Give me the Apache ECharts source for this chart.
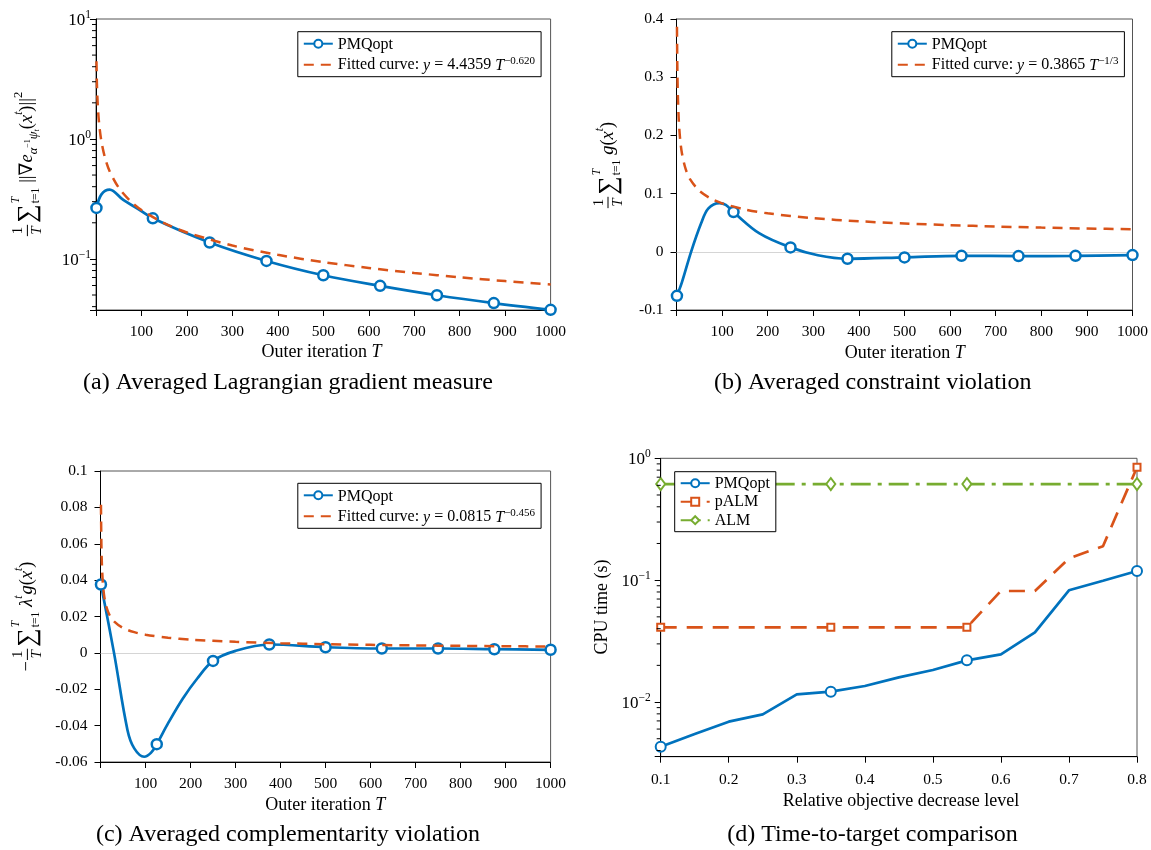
<!DOCTYPE html>
<html><head><meta charset="utf-8">
<script src="https://cdn.jsdelivr.net/npm/echarts@6/dist/echarts.min.js"></script>
<style>html,body{margin:0;padding:0;background:#fff}#c{width:1151px;height:850px}</style>
</head><body><div id="c"></div>
<script>
// ---------------- data ----------------
// panel (a)-(c) PMQopt: [T, value, isMarker]
const pmqA = [[1,0.266,1],[12,0.345,0],[30,0.378,0],[60,0.31,0],[92,0.262,0],[125,0.218,1],[250,0.137,1],[375,0.0962,1],[500,0.0731,1],[625,0.0596,1],[750,0.0498,1],[875,0.0428,1],[1000,0.0376,1]];
const pmqB = [[1,-0.0756,1],[12,-0.052,0],[32,0,0],[54,0.049,0],[70,0.0746,0],[94,0.0838,0],[108,0.0805,0],[125,0.0682,1],[182,0.0316,0],[250,0.0076,1],[310,-0.006,0],[375,-0.012,1],[500,-0.0096,1],[625,-0.0069,1],[750,-0.0074,1],[875,-0.0069,1],[1000,-0.0057,1]];
const pmqC = [[1,0.0376,1],[30,0,0],[60,-0.0425,0],[75,-0.0525,0],[97,-0.0571,0],[112,-0.055,0],[125,-0.0502,1],[150,-0.0388,0],[183,-0.0251,0],[215,-0.0141,0],[250,-0.0044,1],[300,0.0011,0],[375,0.0046,1],[500,0.0031,1],[625,0.0024,1],[750,0.0024,1],[875,0.002,1],[1000,0.0017,1]];
const fitT = [1,2,3,5,8,12,20,30,50,75,100,150,200,300,400,500,600,700,800,900,1000];
const fitA = [4.436,2.886,2.245,1.635,1.222,0.950,0.6925,0.5386,0.3925,0.3053,0.2553,0.1986,0.1661,0.1292,0.1081,0.0941,0.0841,0.0764,0.0703,0.0653,0.0612];
const fitB = [0.3865,0.3068,0.268,0.226,0.1933,0.1688,0.1424,0.1244,0.1049,0.0916,0.0833,0.0728,0.0661,0.0577,0.0525,0.0487,0.0458,0.0435,0.0416,0.0400,0.0387];
const fitC = [0.0815,0.0594,0.0494,0.0391,0.0316,0.0262,0.0208,0.01729,0.01369,0.01138,0.00998,0.0083,0.00728,0.00605,0.00531,0.00479,0.00441,0.00411,0.00387,0.00366,0.00349];
// panel (d)
const levels = [0.1,0.15,0.2,0.25,0.3,0.35,0.4,0.45,0.5,0.55,0.6,0.65,0.7,0.75,0.8];
const dMarkIdx = [0,5,9,14];
const timePMQ = [0.0043,0.00546,0.0069,0.00792,0.01156,0.01216,0.01353,0.01595,0.01832,0.02198,0.0246,0.0373,0.0826,0.099,0.119];
const timePALM = [0.041,0.041,0.041,0.041,0.041,0.041,0.041,0.041,0.041,0.041,0.0815,0.0815,0.151,0.19,0.844];
const timeALM = [0.615,0.615,0.615,0.615,0.615,0.615,0.615,0.615,0.615,0.615,0.615,0.615,0.615,0.615,0.615];
const minorA = [0.04,0.05,0.06,0.07,0.08,0.09,0.2,0.3,0.4,0.5,0.6,0.7,0.8,0.9,2,3,4,5,6,7,8,9];
const minorD = [0.004,0.005,0.006,0.007,0.008,0.009,0.02,0.03,0.04,0.05,0.06,0.07,0.08,0.09,0.2,0.3,0.4,0.5,0.6,0.7,0.8,0.9];

// ---------------- style ----------------
const FF = '"Liberation Serif","DejaVu Serif",serif';
const BLUE = '#0072BD', RED = '#D95319', GREEN = '#77AC30';
const TICKFS = 15.5;
function supRich(fs, sfs, lh){
  return {
    i: {fontStyle:'italic', fontSize:fs, fontFamily:FF, color:'#000', lineHeight:lh, verticalAlign:'bottom'},
    n: {fontSize:fs, fontFamily:FF, color:'#000', lineHeight:lh, verticalAlign:'bottom'},
    s: {fontSize:sfs, fontFamily:FF, color:'#000', lineHeight:sfs, verticalAlign:'top'}
  };
}

const grids = [
  {left:96, top:19, width:454.6, height:291},
  {left:676.5, top:19, width:458.7, height:291},
  {left:100.5, top:471, width:450.1, height:291},
  {left:660.7, top:458.3, width:476.3, height:298.4}
].map(g => Object.assign(g, {show:true, borderColor:'#555', borderWidth:1, backgroundColor:'transparent', containLabel:false}));

const axLine = {show:true, onZero:false, lineStyle:{color:'#000', width:1}};
const axTick = {show:true, inside:false, length:6, lineStyle:{color:'#000', width:1}};
const lblBase = {color:'#000', fontFamily:FF, fontSize:TICKFS};

function tAxis(gi){
  return {type:'value', gridIndex:gi, min:0, max:1000, interval:100, axisLine:axLine, axisTick:axTick, splitLine:{show:false},
    axisLabel:Object.assign({}, lblBase, {margin:14, formatter: v => v === 0 ? '' : String(v)})};
}
function logLabel(v){
  const l = Math.log10(v), e = Math.round(l);
  if (Math.abs(l - e) > 1e-6) return '';
  return '{n|10}{s|' + (e < 0 ? '\u2212' + (-e) : e) + '}';
}
const xAxes = [tAxis(0), tAxis(1), tAxis(2),
  {type:'value', gridIndex:3, min:0.1, max:0.8, interval:0.1, axisLine:axLine, axisTick:axTick, splitLine:{show:false},
   axisLabel:Object.assign({}, lblBase, {margin:15})}];
const yAxes = [
  {type:'log', logBase:10, gridIndex:0, min:0.0375, max:10, axisLine:axLine, axisTick:axTick, splitLine:{show:false}, minorTick:{show:false},
   axisLabel:Object.assign({}, lblBase, {margin:5, formatter:logLabel, rich:supRich(17, 11.5, 20)})},
  {type:'value', gridIndex:1, min:-0.1, max:0.4, interval:0.1, axisLine:axLine, axisTick:axTick, splitLine:{show:false},
   axisLabel:Object.assign({}, lblBase, {margin:13})},
  {type:'value', gridIndex:2, min:-0.06, max:0.1, interval:0.02, axisLine:axLine, axisTick:axTick, splitLine:{show:false},
   axisLabel:Object.assign({}, lblBase, {margin:13})},
  {type:'log', logBase:10, gridIndex:3, min:0.00356, max:1, axisLine:axLine, axisTick:axTick, splitLine:{show:false}, minorTick:{show:false},
   axisLabel:Object.assign({}, lblBase, {margin:10, formatter:logLabel, rich:supRich(17, 11.5, 20)})}
];

function pmqSeries(gi, arr, zero){
  const s = {
    name:'PMQopt', type:'line', xAxisIndex:gi, yAxisIndex:gi, smooth:0.35, showAllSymbol:true, color:BLUE,
    symbol:'circle', symbolSize:10, itemStyle:{color:'#fff', borderColor:BLUE, borderWidth:2.5},
    lineStyle:{color:BLUE, width:2.7}, z:3,
    data: arr.map(p => p[2] ? {value:[p[0],p[1]]} : {value:[p[0],p[1]], symbol:'none'})
  };
  if (zero) s.markLine = {silent:true, symbol:['none','none'], label:{show:false}, lineStyle:{color:'#aaa', type:'dotted', width:1}, data:[{yAxis:0}], z:1};
  return s;
}
function fitSeries(gi, name, vals){
  return {name, type:'line', xAxisIndex:gi, yAxisIndex:gi, smooth:0.3, symbol:'none', color:RED,
    lineStyle:{color:RED, width:2.5, type:[10,7]}, z:4,
    data: fitT.map((t,i) => [t, vals[i]])};
}
function minorSeries(gi, x0, vals){
  return {type:'custom', xAxisIndex:gi, yAxisIndex:gi, silent:true, z:10, clip:false,
    data: vals.map(v => [x0, v]),
    renderItem: (params, api) => {
      const p = api.coord([api.value(0), api.value(1)]);
      return {type:'line', shape:{x1:p[0]-4, y1:p[1], x2:p[0], y2:p[1]}, style:{stroke:'#000', lineWidth:1}};
    }};
}
function dSeries(name, vals, color, lineType, sym, symSize){
  return {name, type:'line', xAxisIndex:3, yAxisIndex:3, color, showAllSymbol:true,
    symbol:sym, symbolSize:symSize, itemStyle:{color:'#fff', borderColor:color, borderWidth:2},
    lineStyle:{color, width:2.7, type:lineType}, z: name==='ALM'?2:3,
    data: levels.map((x,i) => dMarkIdx.indexOf(i) >= 0 ? {value:[x, vals[i]]} : {value:[x, vals[i]], symbol:'none'})};
}

const fitNames = {
  fitA: 'Fitted curve: {i|y} = 4.4359 {i|T}{s|\u22120.620}',
  fitB: 'Fitted curve: {i|y} = 0.3865 {i|T}{s|\u22121/3}',
  fitC: 'Fitted curve: {i|y} = 0.0815 {i|T}{s|\u22120.456}'
};
function legendAt(left, top, data, gap, lh){
  return {show:true, orient:'vertical', left, top, data, itemWidth:29, itemHeight:10, itemGap:gap,
    padding:[3,6,3,5], borderColor:'#000', borderWidth:1, backgroundColor:'#fff', borderRadius:0,
    textStyle:{fontFamily:FF, fontSize:16, color:'#000', lineHeight:lh, rich:supRich(16, 11, lh)},
    formatter: n => fitNames[n] ? fitNames[n] : '{n|' + n + '}', selectedMode:false};
}
const hideSym = name => ({name, itemStyle:{opacity:0}});

// ----- math labels via graphic -----
const mctx = document.createElement('canvas').getContext('2d');
function tw(t, fs, it){ mctx.font = (it ? 'italic ' : '') + fs + 'px ' + FF; return mctx.measureText(t).width; }
function gtxt(t, x, y, fs, it, align){
  return {type:'text', x, y, style:{text:t, fontSize:fs, fontFamily:FF, fontStyle: it ? 'italic' : 'normal', fill:'#000',
    align:align||'left', textAlign:align||'left', verticalAlign:'middle', textVerticalAlign:'middle'}};
}
function mathLabel(cx, cy, pieces){
  let x = 0; const kids = [];
  pieces.forEach(p => {
    if (p.frac) {
      const fs = p.fs, ww = Math.max(tw(p.frac[0], fs, false), tw(p.frac[1], fs, true)) + 3;
      kids.push(gtxt(p.frac[0], x + ww/2, -fs*0.62, fs, false, 'center'));
      kids.push(gtxt(p.frac[1], x + ww/2, fs*0.66, fs, true, 'center'));
      kids.push({type:'line', shape:{x1:x, y1:0, x2:x+ww, y2:0}, style:{stroke:'#000', lineWidth:1}});
      x += ww + (p.gap || 2);
    } else if (p.stack) {
      let mw = 0;
      p.stack.forEach(s => { kids.push(gtxt(s.t, x, s.dy, s.fs, s.it, 'left')); mw = Math.max(mw, tw(s.t, s.fs, s.it)); });
      x += mw + (p.gap || 0);
    } else {
      kids.push(gtxt(p.t, x, p.dy || 0, p.fs, p.it, 'left'));
      x += tw(p.t, p.fs, p.it) + (p.gap || 0);
    }
  });
  return {type:'group', x:cx, y:cy, rotation:Math.PI/2, children:[{type:'group', x:-x/2, y:0, children:kids}]};
}
const MF = 18.5;
const sumPart = [
  {t:'\u2211', fs:26, dy:1, gap:1},
  {stack:[{t:'T', fs:11.5, it:true, dy:-11}, {t:'t=1', fs:11.5, it:false, dy:9}], gap:5}
];
const labA = [{frac:['1','T'], fs:15, gap:2}].concat(sumPart, [
  {t:'||\u2207', fs:MF}, {t:'e', fs:MF, it:true},
  {t:'\u03b1', fs:12.5, it:true, dy:6}, {t:'\u22121', fs:8, dy:1}, {t:'\u03c8', fs:12.5, it:true, dy:6}, {t:'t', fs:8, it:true, dy:9},
  {t:'(', fs:MF}, {t:'x', fs:MF, it:true}, {t:'t', fs:11.5, it:true, dy:-8}, {t:')||', fs:MF}, {t:'2', fs:12.5, dy:-9}
]);
const labB = [{frac:['1','T'], fs:15, gap:2}].concat(sumPart, [
  {t:'g', fs:MF, it:true}, {t:'(', fs:MF}, {t:'x', fs:MF, it:true}, {t:'t', fs:11.5, it:true, dy:-8}, {t:')', fs:MF}
]);
const labC = [{t:'\u2212', fs:MF, gap:1}, {frac:['1','T'], fs:15, gap:2}].concat(sumPart, [
  {t:'\u03bb', fs:MF, it:true}, {t:'t', fs:11.5, it:true, dy:-8, gap:1}, {t:'g', fs:MF, it:true}, {t:'(', fs:MF}, {t:'x', fs:MF, it:true}, {t:'t', fs:11.5, it:true, dy:-8}, {t:')', fs:MF}
]);

function richText(x, y, text, fs, rot){
  return {type:'text', x, y, rotation:rot||0, style:{text, fontSize:fs, fontFamily:FF, fill:'#000', align:'center', textAlign:'center', verticalAlign:'middle', textVerticalAlign:'middle',
    rich:{i:{fontStyle:'italic', fontSize:fs, fontFamily:FF}}}};
}
const graphics = [
  mathLabel(27.4, 164, labA), mathLabel(608, 165, labB), mathLabel(27.4, 616.5, labC),
  richText(602.7, 607, 'CPU time (s)', 18, Math.PI/2),
  richText(321.5, 352.7, 'Outer iteration {i|T}', 18),
  richText(904.8, 353, 'Outer iteration {i|T}', 18),
  richText(325.2, 805.7, 'Outer iteration {i|T}', 18),
  richText(901, 801.7, 'Relative objective decrease level', 18),
  richText(288, 383, '(a) Averaged Lagrangian gradient measure', 24),
  richText(872.8, 383, '(b) Averaged constraint violation', 24),
  richText(288, 835, '(c) Averaged complementarity violation', 24),
  richText(872.5, 835, '(d) Time-to-target comparison', 24)
];

const chart = echarts.init(document.getElementById('c'), null, {renderer:'canvas'});
chart.setOption({
  animation:false, backgroundColor:'#fff',
  grid:grids, xAxis:xAxes, yAxis:yAxes,
  legend:[
    legendAt(297.8, 31.7, ['PMQopt', hideSym('fitA')], 3, 18),
    legendAt(891.8, 31.7, ['PMQopt', hideSym('fitB')], 3, 18),
    legendAt(297.8, 483.3, ['PMQopt', hideSym('fitC')], 3, 18),
    legendAt(674.7, 471.7, ['PMQopt','pALM','ALM'], 1.5, 17)
  ],
  series:[
    pmqSeries(0, pmqA, false), fitSeries(0, 'fitA', fitA), minorSeries(0, 0, minorA),
    pmqSeries(1, pmqB, true), fitSeries(1, 'fitB', fitB),
    pmqSeries(2, pmqC, true), fitSeries(2, 'fitC', fitC),
    dSeries('PMQopt', timePMQ, BLUE, 'solid', 'circle', 10),
    dSeries('pALM', timePALM, RED, [16,10], 'rect', 7),
    dSeries('ALM', timeALM, GREEN, [20,7,4,7], 'diamond', [9,12]),
    minorSeries(3, 0.1, minorD)
  ],
  graphic:graphics
});
</script></body></html>
